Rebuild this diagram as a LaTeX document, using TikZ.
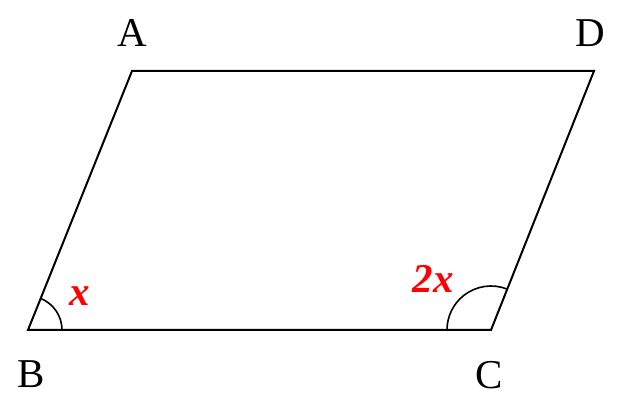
\documentclass[tikz,border=0pt]{standalone}
\usepackage{fontspec}
\setmainfont{Liberation Serif}
\begin{document}
\begin{tikzpicture}[x=1pt,y=1pt,
  edge/.style={line width=2pt, line join=miter},
  anglearc/.style={line width=1.6pt},
  vlabel/.style={font=\fontsize{41}{41}\selectfont, anchor=base, inner sep=0pt},
  alabel/.style={font=\fontsize{41}{41}\selectfont\bfseries\itshape, text=red, anchor=base, inner sep=0pt}]
\useasboundingbox (0,0) rectangle (619,404);
\coordinate (A) at (132,333);
\coordinate (D) at (594,333);
\coordinate (B) at (28,74);
\coordinate (C) at (491,74);
\draw[edge] (A) -- (D) -- (C) -- (B) -- cycle;
\draw[anglearc] ([shift={(34,0)}]B) arc[start angle=0, end angle=68.1, radius=34];
\draw[anglearc] ([shift={(68.3:44)}]C) arc[start angle=68.3, end angle=180, radius=44];
\node[vlabel] (la) at (132,357) {A};
\node[vlabel] (ld) at (590,357) {D};
\node[vlabel] (lb) at (31,16) {B};
\node[vlabel] (lc) at (489,15) {C};
\node[alabel] (lx) at (80,98) {x};
\node[alabel] (l2x) at (433,111) {2x};
\end{tikzpicture}
\end{document}
